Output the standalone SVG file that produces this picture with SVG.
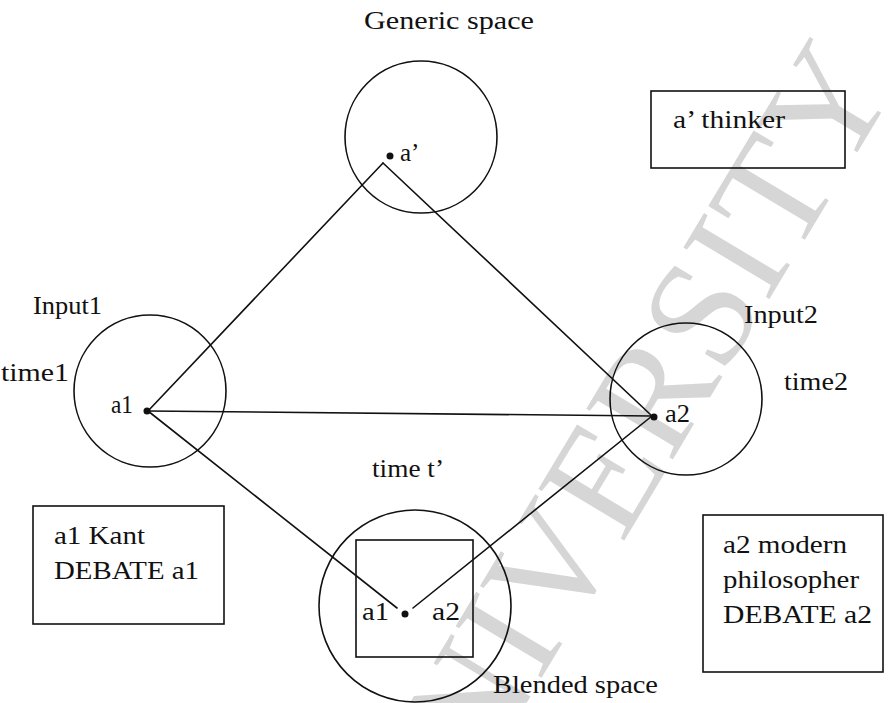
<svg xmlns="http://www.w3.org/2000/svg" width="888" height="703" viewBox="0 0 888 703">
<style>
text{font-family:"Liberation Serif","Times New Roman",serif;font-size:25px;fill:#111}
.big{font-size:26px}
.ring{fill:none;stroke:#111;stroke-width:1.6}
.box{fill:none;stroke:#111;stroke-width:1.6}
.dot{fill:#111}
.conn line{stroke:#111;stroke-width:1.6;stroke-linecap:round}
text.wm{font-family:"Liberation Serif","Times New Roman",serif;font-size:153px;fill:#d6d6d6}
</style>
<rect width="888" height="703" fill="#fff"/>
<text class="wm" transform="translate(425,872) rotate(-59)">UNIVERSITY</text>

<g id="generic-space">
<circle class="ring" cx="421" cy="137" r="76"/>
<circle class="dot" cx="390" cy="156" r="3.5"/>
<text x="400" y="161">a’</text>
<text class="big" x="364" y="29" textLength="170" lengthAdjust="spacingAndGlyphs">Generic space</text>
</g>

<g id="thinker-box">
<rect class="box" x="651" y="91" width="194" height="77"/>
<text x="673" y="128" textLength="112" lengthAdjust="spacingAndGlyphs">a’ thinker</text>
</g>

<g id="input1">
<circle class="ring" cx="150" cy="391" r="76"/>
<circle class="dot" cx="147" cy="411" r="3.5"/>
<text x="111" y="413" textLength="22" lengthAdjust="spacingAndGlyphs">a1</text>
<text class="big" x="33" y="314" textLength="69" lengthAdjust="spacingAndGlyphs">Input1</text>
<text x="1" y="381" textLength="68" lengthAdjust="spacingAndGlyphs">time1</text>
</g>

<g id="input2">
<circle class="ring" cx="686" cy="399" r="76"/>
<circle class="dot" cx="654" cy="417" r="3.5"/>
<text x="665" y="422" textLength="25" lengthAdjust="spacingAndGlyphs">a2</text>
<text class="big" x="744" y="323" textLength="74" lengthAdjust="spacingAndGlyphs">Input2</text>
<text x="784" y="390" textLength="64" lengthAdjust="spacingAndGlyphs">time2</text>
</g>

<g id="blended-space">
<circle class="ring" cx="415" cy="606" r="96"/>
<rect class="box" x="356" y="540" width="117" height="117"/>
<circle class="dot" cx="405" cy="614" r="3.5"/>
<text x="362" y="620" textLength="27" lengthAdjust="spacingAndGlyphs">a1</text>
<text x="432" y="620" textLength="28" lengthAdjust="spacingAndGlyphs">a2</text>
<text x="372" y="477" textLength="72" lengthAdjust="spacingAndGlyphs">time t’</text>
<text x="493" y="693" textLength="165" lengthAdjust="spacingAndGlyphs">Blended space</text>
</g>

<g id="kant-box">
<rect class="box" x="33" y="506" width="191" height="118"/>
<text x="54" y="544" textLength="91" lengthAdjust="spacingAndGlyphs">a1 Kant</text>
<text x="54" y="579" textLength="145" lengthAdjust="spacingAndGlyphs">DEBATE a1</text>
</g>

<g id="modern-box">
<rect class="box" x="703" y="515" width="180" height="157"/>
<text x="723" y="553" textLength="124" lengthAdjust="spacingAndGlyphs">a2 modern</text>
<text x="723" y="588" textLength="136" lengthAdjust="spacingAndGlyphs">philosopher</text>
<text x="723" y="623" textLength="149" lengthAdjust="spacingAndGlyphs">DEBATE a2</text>
</g>

<g id="connectors" class="conn">
<line x1="383" y1="163" x2="148" y2="411"/>
<line x1="383" y1="163" x2="652" y2="416"/>
<line x1="148" y1="411" x2="652" y2="416"/>
<line x1="148" y1="411" x2="397" y2="608"/>
<line x1="652" y1="416" x2="413" y2="608"/>
</g>
</svg>
